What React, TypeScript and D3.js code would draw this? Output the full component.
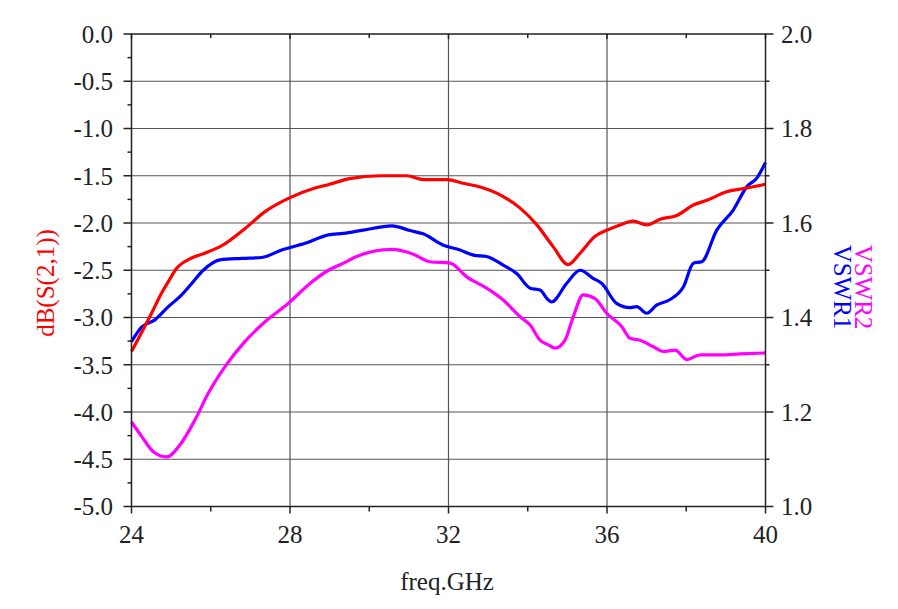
import * as d3 from 'd3';

const freqS21 = [24.0, 24.5, 24.76, 24.93, 25.14, 25.52, 25.85, 26.28, 26.86, 27.37, 27.96, 28.63, 29.0, 29.5, 30.28, 30.95, 31.37, 31.96, 32.37, 32.8, 33.38, 33.8, 34.23, 34.64, 35.02, 35.32, 35.7, 36.03, 36.33, 36.66, 37.0, 37.34, 37.76, 38.18, 38.52, 39.02, 39.53, 40.0];
const s21 = [-3.36, -2.96, -2.74, -2.62, -2.48, -2.37, -2.32, -2.24, -2.06, -1.88, -1.74, -1.63, -1.59, -1.53, -1.5, -1.5, -1.54, -1.54, -1.58, -1.62, -1.72, -1.84, -2.02, -2.25, -2.44, -2.32, -2.14, -2.07, -2.02, -1.98, -2.02, -1.96, -1.92, -1.81, -1.76, -1.67, -1.63, -1.59];

const freqV1 = [24.0, 24.26, 24.59, 24.93, 25.22, 25.52, 25.81, 26.23, 26.78, 27.29, 27.79, 28.38, 28.97, 29.35, 29.85, 30.57, 31.03, 31.36, 31.87, 32.29, 32.63, 32.96, 33.38, 33.72, 34.06, 34.31, 34.52, 34.6, 34.98, 35.32, 35.65, 35.87, 36.24, 36.58, 36.75, 37.0, 37.25, 37.59, 37.93, 38.18, 38.39, 38.77, 39.19, 39.53, 39.78, 40.0];
const vswr1 = [1.349, 1.38, 1.395, 1.423, 1.444, 1.472, 1.5, 1.522, 1.525, 1.527, 1.543, 1.557, 1.575, 1.578, 1.585, 1.594, 1.584, 1.577, 1.553, 1.543, 1.532, 1.529, 1.511, 1.493, 1.462, 1.458, 1.437, 1.433, 1.472, 1.5, 1.483, 1.472, 1.43, 1.421, 1.423, 1.409, 1.426, 1.438, 1.465, 1.515, 1.518, 1.585, 1.628, 1.677, 1.695, 1.728];

const freqV2 = [24.0, 24.26, 24.55, 24.89, 25.22, 25.6, 25.94, 26.36, 26.86, 27.37, 27.96, 28.46, 28.97, 29.35, 29.68, 30.57, 31.11, 31.53, 32.04, 32.46, 32.96, 33.38, 33.8, 34.06, 34.31, 34.52, 34.69, 34.94, 35.15, 35.4, 35.7, 35.99, 36.37, 36.58, 36.83, 37.17, 37.42, 37.72, 38.01, 38.35, 38.85, 39.36, 40.0];
const vswr2 = [1.179, 1.148, 1.116, 1.105, 1.13, 1.183, 1.24, 1.296, 1.349, 1.391, 1.43, 1.469, 1.5, 1.515, 1.529, 1.544, 1.534, 1.518, 1.515, 1.486, 1.462, 1.437, 1.402, 1.384, 1.352, 1.342, 1.335, 1.352, 1.402, 1.448, 1.44, 1.409, 1.381, 1.356, 1.352, 1.338, 1.328, 1.331, 1.311, 1.321, 1.321, 1.323, 1.325];

const xTicks = [24, 28, 32, 36, 40];
const xMinorTicks = [26, 30, 34, 38];
const leftTicks = [0, -0.5, -1, -1.5, -2, -2.5, -3, -3.5, -4, -4.5, -5];
const leftMinorTicks = [-0.25, -0.75, -1.25, -1.75, -2.25, -2.75, -3.25, -3.75, -4.25, -4.75];
const rightTicks = [1.0, 1.2, 1.4, 1.6, 1.8, 2.0];
const rightMinorTicks = [1.1, 1.3, 1.5, 1.7, 1.9];

const font = '"Liberation Serif", "Times New Roman", serif';

export default function App() {
  const width = 898;
  const height = 609;
  const left = 131.5;
  const right = 765.5;
  const top = 34;
  const bottom = 506.5;

  const x = d3.scaleLinear().domain([24, 40]).range([left, right]);
  const yL = d3.scaleLinear().domain([-5, 0]).range([bottom, top]);
  const yR = d3.scaleLinear().domain([1, 2]).range([bottom, top]);

  const lineL = d3.line<number>()
    .x((_, i) => x(freqS21[i]))
    .y(d => yL(d))
    .curve(d3.curveMonotoneX);
  const lineV1 = d3.line<number>()
    .x((_, i) => x(freqV1[i]))
    .y(d => yR(d))
    .curve(d3.curveMonotoneX);
  const lineV2 = d3.line<number>()
    .x((_, i) => x(freqV2[i]))
    .y(d => yR(d))
    .curve(d3.curveMonotoneX);

  // hyphen instead of unicode minus, like the original
  const fmt = (v: number) => d3.format('.1f')(v).replace('\u2212', '-');

  return (
    <div style={{ position: 'absolute', left: 0, top: 0 }}>
      <svg width={width} height={height} style={{ display: 'block', background: '#fff' }}>
        {/* grid */}
        {leftTicks.slice(1, -1).map(t => (
          <line key={'gy' + t} x1={left} x2={right} y1={yL(t)} y2={yL(t)} stroke="#555" strokeWidth={1.2} />
        ))}
        {xTicks.slice(1, -1).map(t => (
          <line key={'gx' + t} x1={x(t)} x2={x(t)} y1={top} y2={bottom} stroke="#555" strokeWidth={1.2} />
        ))}

        {/* curves */}
        <path d={lineV2(vswr2) || ''} fill="none" stroke="#ff00ff" strokeWidth={3.2} strokeLinejoin="round" />
        <path d={lineV1(vswr1) || ''} fill="none" stroke="#0000ff" strokeWidth={3.2} strokeLinejoin="round" />
        <path d={lineL(s21) || ''} fill="none" stroke="#ff0000" strokeWidth={3.2} strokeLinejoin="round" />

        {/* frame */}
        <rect x={left} y={top} width={right - left} height={bottom - top} fill="none" stroke="#222" strokeWidth={1.5} />

        {/* bottom / top axis */}
        {xTicks.map(t => (
          <g key={'xt' + t}>
            <line x1={x(t)} x2={x(t)} y1={bottom} y2={bottom + 7} stroke="#222" strokeWidth={1.5} />
            <line x1={x(t)} x2={x(t)} y1={top} y2={top + 5} stroke="#222" strokeWidth={1.5} />
            <text x={x(t)} y={543} textAnchor="middle" fontSize={25} fontFamily={font} fill="#222">{t}</text>
          </g>
        ))}
        {xMinorTicks.map(t => (
          <g key={'xm' + t}>
            <line x1={x(t)} x2={x(t)} y1={bottom} y2={bottom + 5} stroke="#222" strokeWidth={1.5} />
            <line x1={x(t)} x2={x(t)} y1={top} y2={top + 4} stroke="#222" strokeWidth={1.5} />
          </g>
        ))}

        {/* left axis */}
        {leftTicks.map(t => (
          <g key={'lt' + t}>
            <line x1={left - 8} x2={left} y1={yL(t)} y2={yL(t)} stroke="#222" strokeWidth={1.5} />
            <text x={113} y={yL(t)} dy="0.35em" textAnchor="end" fontSize={25} fontFamily={font} fill="#222">{fmt(t)}</text>
          </g>
        ))}
        {leftMinorTicks.map(t => (
          <line key={'lm' + t} x1={left - 4} x2={left} y1={yL(t)} y2={yL(t)} stroke="#222" strokeWidth={1.5} />
        ))}

        {/* right axis */}
        {rightTicks.map(t => (
          <g key={'rt' + t}>
            <line x1={right} x2={right + 8} y1={yR(t)} y2={yR(t)} stroke="#222" strokeWidth={1.5} />
            <text x={781} y={yR(t)} dy="0.35em" textAnchor="start" fontSize={25} fontFamily={font} fill="#222">{fmt(t)}</text>
          </g>
        ))}
        {rightMinorTicks.map(t => (
          <line key={'rm' + t} x1={right} x2={right + 4} y1={yR(t)} y2={yR(t)} stroke="#222" strokeWidth={1.5} />
        ))}

        {/* axis titles */}
        <text transform="translate(54,283) rotate(-90)" textAnchor="middle" fontSize={25} fontFamily={font} fill="#ff0000">dB(S(2,1))</text>
        <text transform="translate(834,287) rotate(90)" textAnchor="middle" fontSize={25} fontFamily={font} fill="#0000ff">VSWR1</text>
        <text transform="translate(855,287) rotate(90)" textAnchor="middle" fontSize={25} fontFamily={font} fill="#ff00ff">VSWR2</text>
        <text x={447} y={590} textAnchor="middle" fontSize={25} fontFamily={font} fill="#222">freq.GHz</text>
      </svg>
    </div>
  );
}
